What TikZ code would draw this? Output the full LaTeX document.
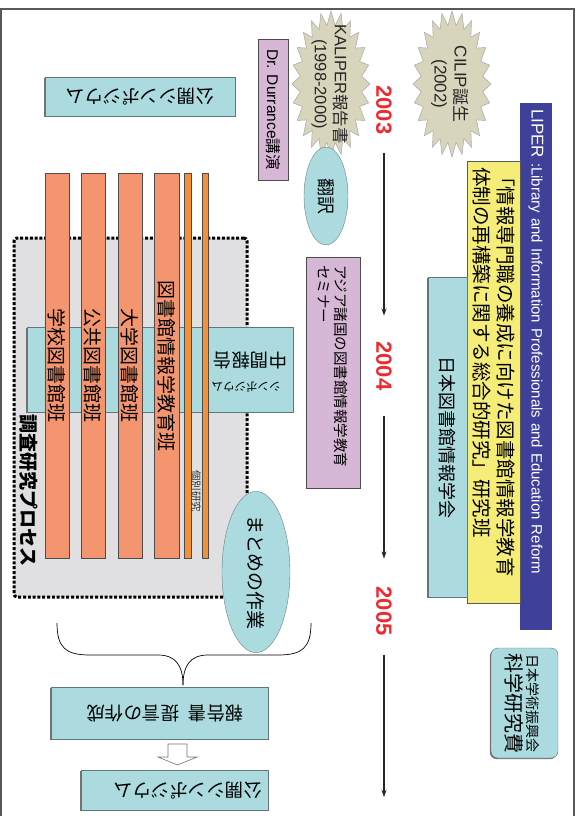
\documentclass[tikz,border=0pt]{standalone}
\usepackage{fontspec}
\setmainfont{Noto Sans CJK JP}
\newfontfamily\lat{Liberation Sans}
\usetikzlibrary{arrows.meta,shapes.geometric}
\definecolor{tealc}{HTML}{ABDBDE}
\definecolor{pinkc}{HTML}{D7B7D6}
\definecolor{yelc}{HTML}{F5ED77}
\definecolor{bluec}{HTML}{3E4099}
\definecolor{salc}{HTML}{F5956F}
\definecolor{orgc}{HTML}{F39139}
\definecolor{grayc}{HTML}{E0E0E2}
\definecolor{starc}{HTML}{D8D5BD}
\definecolor{redc}{HTML}{EE2A2F}
\newcommand{\fsz}[2]{\fontsize{#1}{#2}\selectfont}
\begin{document}
\begin{tikzpicture}[x=1pt,y=-1pt,
 every node/.style={inner sep=0pt, outer sep=0pt},
 shad/.style={preaction={fill=black!55, transform canvas={shift={(-1.2pt,-1.2pt)}}}},
 vbox/.style={rectangle, rotate=-90, line width=0.6pt},
 hbox/.style={rectangle, rotate=180, line width=0.6pt},
 tealbox/.style={fill=tealc, draw=tealc!55!black, line width=0.4pt, shad},
 pinkbox/.style={fill=pinkc, draw=black!70, line width=0.7pt},
 bar/.style={vbox, fill=salc, draw=black!70, minimum width=385pt, minimum height=24pt, font=\fsz{19}{19}},
 thinbar/.style={vbox, fill=orgc, draw=black!70, minimum width=385pt},
 year/.style={rotate=-90, text=redc, font=\lat\bfseries\fsz{22}{22}},
 tl/.style={line width=1.2pt, draw=black!85, -{Stealth[length=7pt,width=5pt]}},
 starfill/.style={fill=starc, draw=black!35, line width=0.5pt},
 tealell/.style={ellipse, rotate=-90, fill=tealc, draw=tealc!60!black, line width=0.4pt},
]
\useasboundingbox (0,0) rectangle (581,816);
% frame
\draw[line width=1.5pt, black!65] (1,830) -- (1,9) -- (574,9) -- (574,830);

% stars
\draw[starfill] plot[samples at={0,...,47}, variable=\k]
  ({331+ifthenelse(mod(\k,2)==0,39,31)*cos(7.5*\k)}, {84+ifthenelse(mod(\k,2)==0,73,59)*sin(7.5*\k)}) -- cycle;
\draw[starfill] plot[samples at={0,...,47}, variable=\k]
  ({452+ifthenelse(mod(\k,2)==0,39,31)*cos(7.5*\k)}, {84+ifthenelse(mod(\k,2)==0,73,59)*sin(7.5*\k)}) -- cycle;
\node[rotate=-90, align=center, font=\fsz{16.5}{20}, text=black!85] (kalip) at (330,84) {{\lat KALIPER}報告書\\{\lat (1998-2000)}};
\node[rotate=-90, align=center, font=\fsz{17}{20}, text=black!85] (cilip) at (450,84) {{\lat CILIP}誕生\\{\lat (2002)}};

% right column
\node[vbox, fill=bluec, minimum width=527pt, minimum height=32pt, text=white, font=\lat\fsz{15}{18}, align=left, text width=515pt] (liper) at (536,366.5) {{\fsz{17}{18}LIPER} :Library and Information Professionals and Education Reform};
\node[vbox, fill=yelc, draw=black!65, minimum width=442pt, minimum height=53pt, text width=430pt, align=left, font=\fsz{19.5}{24}] (proj) at (493.5,382) {「情報専門職の養成に向けた図書館情報学教育\\体制の再構築に関する総合的研究」研究班};
\node[vbox, tealbox, minimum width=320pt, minimum height=39pt, font=\fsz{18}{18}] (jslis) at (447.5,437) {日本図書館情報学会};
\node[vbox, tealbox, rounded corners=7pt, minimum width=110pt, minimum height=67pt] (jsps) at (524.5,703) {};
\node[rotate=-90, font=\fsz{14}{14}] (jsps1) at (533,703) {日本学術振興会};
\node[rotate=-90, font=\fsz{20}{20}] (jsps2) at (514,703) {科学研究費};

% timeline
\node[year] (y2003) at (384,110) {2003};
\node[year] (y2004) at (384,366) {2004};
\node[year] (y2005) at (384,611) {2005};
\coordinate (tend) at (384,797);
\draw[tl, shorten <=19pt, shorten >=26pt] (y2003) -- (y2004);
\draw[tl, shorten <=26pt, shorten >=28pt] (y2004) -- (y2005);
\draw[tl, shorten <=19.5pt] (y2005) -- (tend);

% middle column
\node[vbox, pinkbox, minimum width=141pt, minimum height=30pt, font=\fsz{15.5}{16}] (durr) at (273,109.5) {{\lat Dr. Durrance}講演};
\node[vbox, pinkbox, minimum width=231pt, minimum height=54pt, text width=215pt, align=left, font=\fsz{14.5}{17}] (asia) at (333,372.5) {アジア諸国の図書館情報学教育\\セミナー};
\node[tealell, minimum width=98pt, minimum height=44pt, font=\fsz{18}{18}] (honyaku) at (326,196) {翻訳};

% left column
\node[hbox, tealbox, minimum width=190pt, minimum height=39pt, font=\fsz{18.5}{18.5}] (sympo1) at (140,96.5) {公開シンポジウム};
\node[rectangle, fill=grayc, draw=black, line width=3pt, dash pattern=on 3pt off 1.8pt, rounded corners=3pt, minimum width=233pt, minimum height=359pt] (proc) at (130.5,417.5) {};
\node[hbox, tealbox, minimum width=266pt, minimum height=85pt] (chukan) at (160,369.5) {};
\node[rotate=180, font=\fsz{18.5}{18.5}] (chukan1) at (250,360) {中間報告};
\node[rotate=180, font=\fsz{11.5}{11.5}] (chukan2) at (246,387) {シンポジウム};
\node[bar] (b1) at (57,365.5) {学校図書館班};
\node[bar] (b2) at (93,365.5) {公共図書館班};
\node[bar] (b3) at (130,365.5) {大学図書館班};
\node[bar, minimum height=25pt] (b4) at (166.5,365.5) {図書館情報学教育班};
\node[thinbar, minimum height=7pt] (b5) at (187.5,365.5) {};
\node[thinbar, minimum height=6pt] (b6) at (205,365.5) {};
\node[rotate=-90, font=\fsz{10.5}{10.5}, text=black!80] (kobetsu) at (196,491) {個別研究};
\node[rotate=-90, font=\bfseries\fsz{19}{19}] (proclabel) at (29,490) {調査研究プロセス};
\node[tealell, minimum width=130pt, minimum height=68pt, font=\fsz{19}{19}] (matome) at (256,572) {まとめの作業};

% brace
\coordinate (brL) at (57,623);
\coordinate (brR) at (311,623);
\coordinate (brT) at (183,685);
\draw[line width=0.7pt] (brL) .. controls (57,648) and (66,655) .. (90,655) -- (158,655) .. controls (176,655) and (183,666) .. (brT);
\draw[line width=0.7pt] (brR) .. controls (311,648) and (302,655) .. (278,655) -- (208,655) .. controls (190,655) and (183,666) .. (brT);

% bottom boxes
\node[hbox, tealbox, minimum width=217pt, minimum height=52pt] (report) at (159.5,713) {};
\node[rotate=180, font=\fsz{18.5}{18.5}] (reporttxt) at (165,713) {報告書\hspace{9pt}提言の作成};
\draw[fill=white, draw=black!55, line width=0.6pt] (168,744) -- (187,744) -- (187,757) -- (197,757) -- (177.5,765) -- (158,757) -- (168,757) -- cycle;
\node[hbox, tealbox, minimum width=187pt, minimum height=40pt] (sympo2) at (174.5,790) {};
\node[rotate=180, font=\fsz{18.5}{18.5}] (sympo2txt) at (188,791) {公開シンポジウム};
\end{tikzpicture}
\end{document}
